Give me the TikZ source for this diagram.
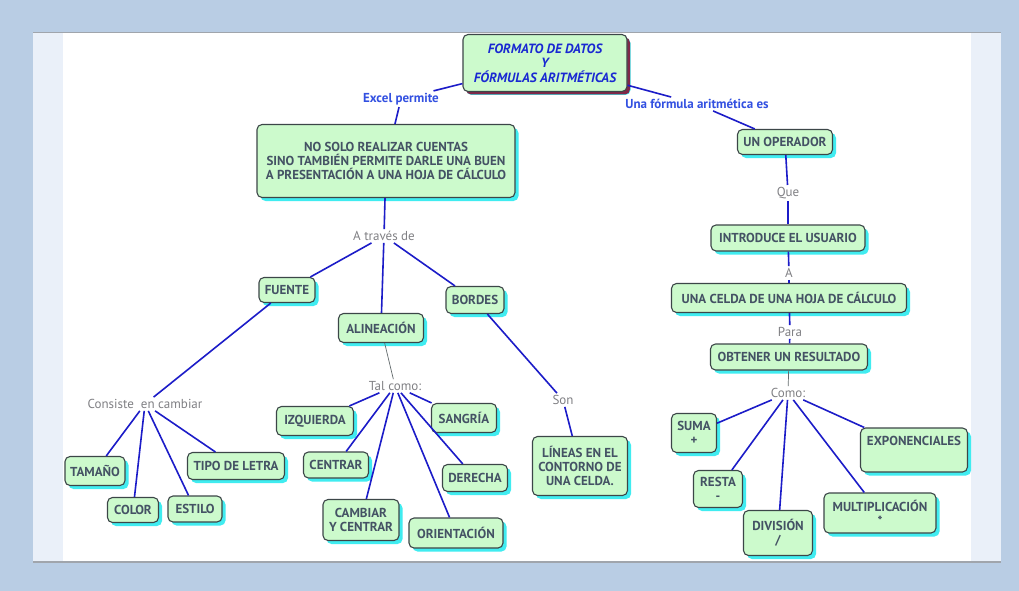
\documentclass[tikz,border=0pt]{standalone}
\usepackage{fontspec}
\setmainfont{PT Sans}
\usetikzlibrary{shadows}

\definecolor{bgblue}{RGB}{185,205,228}
\definecolor{panelblue}{RGB}{234,240,249}
\definecolor{edgegray}{RGB}{160,165,172}
\definecolor{boxgreen}{RGB}{204,250,204}
\definecolor{boxline}{RGB}{60,70,72}
\definecolor{glow}{RGB}{64,236,240}
\definecolor{wine}{RGB}{128,40,72}
\definecolor{linkblue}{RGB}{28,28,200}
\definecolor{boxtext}{RGB}{68,82,100}
\definecolor{labelgray}{RGB}{128,128,132}
\definecolor{labelblue}{RGB}{50,80,225}
\definecolor{titleblue}{RGB}{25,40,210}

\tikzset{
  concept/.style={draw=boxline, fill=boxgreen, rounded corners=5pt, line width=1.1pt,
    text=boxtext, font=\bfseries\fontsize{13}{14}\selectfont, align=center, inner sep=2pt,
    drop shadow={shadow xshift=3.5pt, shadow yshift=-3.5pt, fill=glow, opacity=1}},
  bsize/.style 2 args={minimum width=#1pt, minimum height=#2pt},
  headline/.style={concept, text=titleblue, font=\bfseries\itshape\fontsize{13.4}{14.5}\selectfont,
    drop shadow={shadow xshift=3pt, shadow yshift=-3pt, fill=wine, opacity=1}},
  linker/.style={text=labelgray, font=\fontsize{13}{14}\selectfont, inner sep=2pt},
  mainlink/.style={text=labelblue, font=\bfseries\fontsize{13}{14}\selectfont, inner sep=2pt},
  link/.style={draw=linkblue, line width=1.6pt},
  thinlink/.style={draw=boxline!80, line width=0.7pt},
}

\begin{document}
\begin{tikzpicture}[x=1pt, y=-1pt]
\useasboundingbox (0,0) rectangle (1019,591);
\fill[bgblue] (0,0) rectangle (1019,591);
\fill[panelblue] (33,33) rectangle (1001,562);
\fill[white] (63,33) rectangle (971,562);
\draw[edgegray, line width=1pt] (33,33) -- (1001,33);
\draw[edgegray, line width=1.5pt] (33,562) -- (1001,562);

\node[headline, bsize={164}{57}] (title) at (545,63) {FORMATO DE DATOS\\Y\\FÓRMULAS ARITMÉTICAS};
\node[mainlink] (excel) at (401,99) {Excel permite};
\node[mainlink] (formula) at (697,104) {Una fórmula aritmética es};

\node[concept, bsize={258}{73}] (cuentas) at (386,161) {NO SOLO REALIZAR CUENTAS\\SINO TAMBIÉN PERMITE DARLE UNA BUEN\\A PRESENTACIÓN A UNA HOJA DE CÁLCULO};
\node[linker] (atraves) at (384,236) {A través de};
\node[concept, bsize={56}{25}] (fuente) at (287,290) {FUENTE};
\node[concept, bsize={85}{29}] (alineacion) at (381,328) {ALINEACIÓN};
\node[concept, bsize={58}{27}] (bordes) at (475,300) {BORDES};

\node[linker] (consiste) at (145,404) {Consiste\ \ en cambiar};
\node[concept, bsize={60}{29}] (tamano) at (95,471) {TAMAÑO};
\node[concept, bsize={51}{25}] (color) at (133,510) {COLOR};
\node[concept, bsize={54}{26}] (estilo) at (195,509) {ESTILO};
\node[concept, bsize={97}{27}] (tipo) at (236,466) {TIPO DE LETRA};

\node[linker] (talcomo) at (395,386) {Tal como:};
\node[concept, bsize={77}{29}] (izquierda) at (315,421) {IZQUIERDA};
\node[concept, bsize={65}{26}] (centrar) at (336,465) {CENTRAR};
\node[concept, bsize={76}{41}] (cambiar) at (361,520) {CAMBIAR\\Y CENTRAR};
\node[concept, bsize={94}{30}] (orientacion) at (456,533) {ORIENTACIÓN};
\node[concept, bsize={65}{27}] (derecha) at (475,478) {DERECHA};
\node[concept, bsize={65}{29}] (sangria) at (464,418) {SANGRÍA};

\node[linker] (son) at (563,400) {Son};
\node[concept, bsize={95}{59}] (lineas) at (580,466) {LÍNEAS EN EL\\CONTORNO DE\\UNA CELDA.};

\node[concept, bsize={95}{25}] (operador) at (785,142) {UN OPERADOR};
\node[linker] (que) at (788,193) {Que};
\node[concept, bsize={154}{26}] (usuario) at (788,238) {INTRODUCE EL USUARIO};
\node[linker] (a) at (789,273) {A};
\node[concept, bsize={235}{29}] (celda) at (789,298) {UNA CELDA DE UNA HOJA DE CÁLCULO};
\node[linker] (para) at (790,332) {Para};
\node[concept, bsize={157}{26}] (resultado) at (789,357) {OBTENER UN RESULTADO};
\node[linker] (como) at (788,393) {Como:};
\node[concept, bsize={45}{39}] (suma) at (694,433) {SUMA\\+};
\node[concept, bsize={49}{37}] (resta) at (718,489) {RESTA\\-};
\node[concept, bsize={69}{45}] (division) at (778,533) {DIVISIÓN\\/};
\node[concept, bsize={112}{40}] (multi) at (880,513) {MULTIPLICACIÓN\\*};
\node[concept, bsize={107}{44}] (expo) at (914,450) {EXPONENCIALES\\\strut};

\draw[link] (title) -- (excel);
\draw[link] (excel) -- (cuentas);
\draw[link] (title) -- (formula);
\draw[link] (formula) -- (operador);
\draw[link] (cuentas) -- (atraves);
\foreach \n in {fuente,alineacion,bordes} \draw[link] (atraves) -- (\n);
\draw[link] (fuente) -- (consiste);
\foreach \n in {tamano,color,estilo,tipo} \draw[link] (consiste) -- (\n);
\draw[thinlink] (alineacion) -- (talcomo);
\foreach \n in {izquierda,centrar,cambiar,orientacion,derecha,sangria} \draw[link] (talcomo) -- (\n);
\draw[link] (bordes) -- (son);
\draw[link] (son) -- (lineas);
\draw[link] (operador) -- (que);
\draw[link] (que) -- (usuario);
\draw[link] (usuario) -- (a);
\draw[link] (a) -- (celda);
\draw[link] (celda) -- (para);
\draw[link] (para) -- (resultado);
\draw[thinlink] (resultado) -- (como);
\foreach \n in {suma,resta,division,multi,expo} \draw[link] (como) -- (\n);
\end{tikzpicture}
\end{document}
